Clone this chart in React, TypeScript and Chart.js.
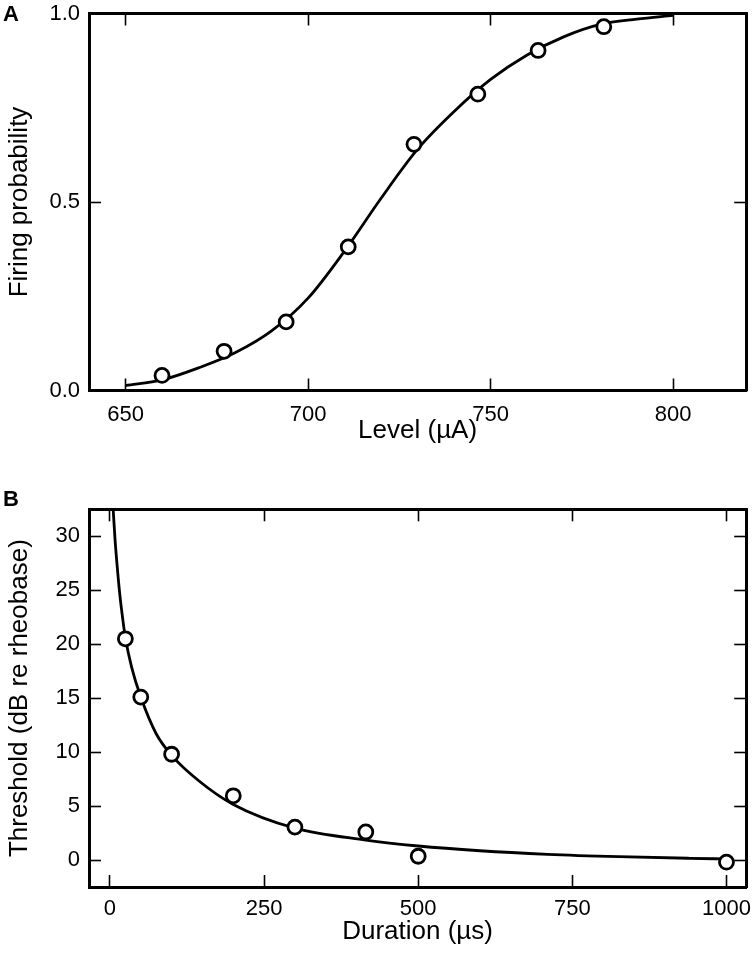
import React, { useEffect, useRef } from "react";
import { Chart, registerables } from "chart.js";

Chart.register(...registerables);

const FONT = '"Liberation Sans", Arial, Helvetica, sans-serif';

// ---------- Panel A: firing probability vs level ----------
const levelPoints = [660, 677, 694, 711, 729, 746.5, 763, 781];
const probPoints = [0.04, 0.104, 0.182, 0.381, 0.653, 0.786, 0.902, 0.965];
const levelCurve = [650, 660, 670, 680, 690, 700, 710, 720, 730, 740, 750, 760, 770, 780, 790, 800];
const probCurve = [0.013, 0.028, 0.06, 0.1, 0.158, 0.245, 0.37, 0.51, 0.64, 0.74, 0.825, 0.89, 0.938, 0.971, 0.985, 0.995];
const levelTicks = [650, 700, 750, 800];
const probTicks = [0, 0.5, 1];

// ---------- Panel B: threshold vs duration ----------
const durationPoints = [25, 50, 100, 200, 300, 415, 500, 1000];
const thresholdPoints = [20.5, 15.1, 9.8, 5.95, 3.05, 2.6, 0.35, -0.2];
const durationCurve = [5.3, 8, 11, 16, 21.5, 25, 35, 50, 75, 100, 145, 200, 300, 415, 500, 600, 710, 825, 940, 1000];
const thresholdCurve = [32.4, 29.9, 27.7, 24.6, 22.0, 20.6, 17.9, 15.1, 11.7, 9.7, 7.3, 5.15, 2.95, 1.85, 1.3, 0.86, 0.53, 0.31, 0.16, 0.1];
const durationTicks = [0, 250, 500, 750, 1000];
const thresholdTicks = [0, 5, 10, 15, 20, 25, 30];

type PanelSpec = {
  px: number[];
  py: number[];
  cx: number[];
  cy: number[];
  xMin: number;
  xMax: number;
  yMin: number;
  yMax: number;
  xTicks: number[];
  yTicks: number[];
  yDecimals: number;
  xTitle: string;
  yTitle: string;
  height: number;
  padTop: number;
  xAxisHeight: number;
  xTickPad: number;
  xTitlePad: number;
};

const TICK_LEN = -12;
const TICK_FONT = 22;

function zeroPad(sc: any) {
  sc.paddingTop = 0;
  sc.paddingBottom = 0;
  sc.paddingLeft = 0;
  sc.paddingRight = 0;
}

function buildConfig(s: PanelSpec): any {
  const setTicks = (vals: number[]) => (scale: any) => {
    scale.ticks = vals.map((v) => ({ value: v }));
  };
  const gridOpts = {
    display: true,
    drawOnChartArea: false,
    drawTicks: true,
    tickLength: TICK_LEN,
    tickWidth: 1.6,
    tickColor: "#000",
    color: "#000",
  };
  const borderOpts = { display: true, color: "#000", width: 3 };
  return {
    type: "scatter",
    data: {
      datasets: [
        {
          label: "data",
          data: s.px.map((x, i) => ({ x, y: s.py[i] })),
          showLine: false,
          pointRadius: 7,
          pointHoverRadius: 7,
          pointBorderWidth: 2.8,
          pointBorderColor: "#000",
          pointBackgroundColor: "#fff",
          order: 0,
        },
        {
          label: "fit",
          data: s.cx.map((x, i) => ({ x, y: s.cy[i] })),
          showLine: true,
          borderColor: "#000",
          borderWidth: 2.8,
          pointRadius: 0,
          pointHoverRadius: 0,
          cubicInterpolationMode: "monotone",
          fill: false,
          order: 1,
        },
      ],
    },
    options: {
      responsive: false,
      animation: false,
      devicePixelRatio: 1,
      events: [],
      layout: { padding: { top: s.padTop, right: 6, left: 0, bottom: 0 } },
      plugins: { legend: { display: false }, tooltip: { enabled: false }, title: { display: false } },
      scales: {
        x: {
          type: "linear",
          position: "bottom",
          min: s.xMin,
          max: s.xMax,
          afterBuildTicks: setTicks(s.xTicks),
          afterFit: (sc: any) => {
            sc.height = s.xAxisHeight;
            zeroPad(sc);
          },
          grid: gridOpts,
          border: borderOpts,
          ticks: {
            color: "#000",
            font: { family: FONT, size: TICK_FONT },
            padding: s.xTickPad,
            autoSkip: false,
            maxRotation: 0,
            callback: (v: any) => String(v),
          },
          title: {
            display: true,
            text: s.xTitle,
            color: "#000",
            font: { family: FONT, size: 26 },
            padding: { top: 0, bottom: s.xTitlePad },
          },
        },
        x2: {
          type: "linear",
          axis: "x",
          position: "top",
          min: s.xMin,
          max: s.xMax,
          afterBuildTicks: setTicks(s.xTicks),
          afterFit: (sc: any) => {
            sc.height = 0;
            zeroPad(sc);
          },
          grid: gridOpts,
          border: borderOpts,
          ticks: { display: false },
        },
        y: {
          type: "linear",
          position: "left",
          min: s.yMin,
          max: s.yMax,
          afterBuildTicks: setTicks(s.yTicks),
          afterFit: (sc: any) => {
            sc.width = 89;
            zeroPad(sc);
          },
          grid: gridOpts,
          border: borderOpts,
          ticks: {
            color: "#000",
            font: { family: FONT, size: TICK_FONT },
            padding: 21,
            autoSkip: false,
            callback: (v: any) => Number(v).toFixed(s.yDecimals),
          },
          title: {
            display: true,
            text: s.yTitle,
            color: "#000",
            font: { family: FONT, size: 26 },
            padding: { top: 4.5, bottom: 0 },
          },
        },
        y2: {
          type: "linear",
          axis: "y",
          position: "right",
          min: s.yMin,
          max: s.yMax,
          afterBuildTicks: setTicks(s.yTicks),
          afterFit: (sc: any) => {
            sc.width = 0;
            zeroPad(sc);
          },
          grid: gridOpts,
          border: borderOpts,
          ticks: { display: false },
        },
      },
    },
  };
}

function Panel({ spec, top }: { spec: PanelSpec; top: number }) {
  const ref = useRef<HTMLCanvasElement | null>(null);
  useEffect(() => {
    if (!ref.current) return;
    const chart = new Chart(ref.current, buildConfig(spec));
    return () => chart.destroy();
  }, [spec]);
  return (
    <canvas
      ref={ref}
      width={756}
      height={spec.height}
      style={{ position: "absolute", left: 0, top, width: 756, height: spec.height, display: "block" }}
    />
  );
}

const specA: PanelSpec = {
  px: levelPoints,
  py: probPoints,
  cx: levelCurve,
  cy: probCurve,
  xMin: 640,
  xMax: 820,
  yMin: 0,
  yMax: 1,
  xTicks: levelTicks,
  yTicks: probTicks,
  yDecimals: 1,
  xTitle: "Level (\u00B5A)",
  yTitle: "Firing probability",
  height: 460,
  padTop: 13.5,
  xAxisHeight: 69.5,
  xTickPad: 23.4,
  xTitlePad: 13.4,
};

const specB: PanelSpec = {
  px: durationPoints,
  py: thresholdPoints,
  cx: durationCurve,
  cy: thresholdCurve,
  xMin: -34,
  xMax: 1032,
  yMin: -2.5,
  yMax: 32.5,
  xTicks: durationTicks,
  yTicks: thresholdTicks,
  yDecimals: 0,
  xTitle: "Duration (\u00B5s)",
  yTitle: "Threshold (dB re rheobase)",
  height: 496,
  padTop: 39.3,
  xAxisHeight: 79,
  xTickPad: 20.9,
  xTitlePad: 19,
};

const panelLabel: React.CSSProperties = {
  position: "absolute",
  left: 3,
  fontFamily: FONT,
  fontWeight: "bold",
  fontSize: 22,
  lineHeight: "22px",
  color: "#000",
};

export default function App() {
  return (
    <div style={{ position: "absolute", left: 0, top: 0, width: 756, height: 966, background: "#fff" }}>
      <Panel spec={specA} top={0} />
      <Panel spec={specB} top={470} />
      <div style={{ ...panelLabel, top: 3 }}>A</div>
      <div style={{ ...panelLabel, top: 488 }}>B</div>
    </div>
  );
}
